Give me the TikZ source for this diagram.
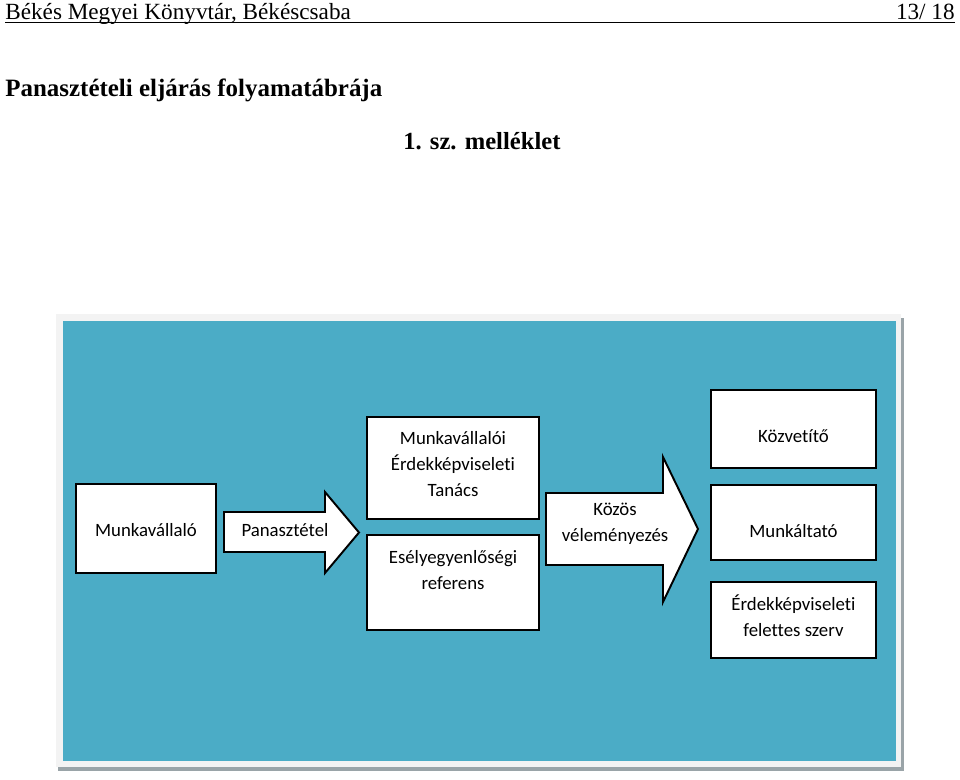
\documentclass[tikz,border=0pt]{standalone}
\usepackage{fontspec}
\setmainfont{Liberation Serif}
\newfontfamily\dobozfont[Ligatures=NoCommon]{Carlito}
\usetikzlibrary{positioning}
\definecolor{panelkek}{HTML}{4BACC6}
\definecolor{keret}{HTML}{F3F3F3}
\definecolor{arnyek}{HTML}{9AA4A8}

\tikzset{
  doboz/.style={draw=black, line width=1.1pt, fill=white, inner sep=0pt},
  szoveg/.style={font=\dobozfont\fontsize{10.7}{15}\selectfont, align=center, inner sep=0pt},
  nyil/.style={draw=black, line width=1.1pt, fill=white, line join=miter},
}

\begin{document}
\begin{tikzpicture}[x=0.02cm,y=-0.02cm]
\useasboundingbox (0,0) rectangle (960,779);

\node[anchor=base west, inner sep=0pt, font=\fontsize{13.2}{15}\selectfont] (fej) at (5,19.5) {Békés Megyei Könyvtár, Békéscsaba};
\node[anchor=base east, inner sep=0pt, font=\fontsize{13.2}{15}\selectfont] (oldal) at (955,19.5) {13/ 18};
\draw[line width=0.6pt] (fej.base west) ++(0,3) coordinate (vonal) -- (vonal -| oldal.east);
\node[anchor=base west, inner sep=0pt, font=\bfseries\fontsize{14.2}{16}\selectfont] (cim) at (5,96) {Panasztételi eljárás folyamatábrája};
\node[anchor=base west, inner sep=0pt, font=\bfseries\fontsize{14}{16}\selectfont] (mell) at (403,149) {1. sz. melléklet};

\fill[arnyek] (58,318) rectangle (904,771);
\fill[keret] (56,314) rectangle (901,767);
\fill[panelkek] (63,321) rectangle (896,761);

\node[doboz, minimum width=2.8cm, minimum height=1.78cm] (munkavallalo) at (146,528.5) {};
\node[szoveg] (munkavallalo-t) at (146,530) {Munkavállaló};

\draw[nyil] (224,512) -- (325,512) -- (325,492) -- (359,532.5) -- (325,573) -- (325,552) -- (224,552) -- cycle;
\node[szoveg] (panasz) at (285,530) {Panasztétel};

\node[doboz, minimum width=3.44cm, minimum height=2.04cm] (met) at (453,468) {};
\node[szoveg] (met-t) at (453,464) {Munkavállalói\\Érdekképviseleti\\Tanács};
\node[doboz, minimum width=3.44cm, minimum height=1.9cm] (esely) at (453,582.5) {};
\node[szoveg] (esely-t) at (453,570) {Esélyegyenlőségi\\referens};

\draw[nyil] (546,493) -- (663,493) -- (663,457) -- (698,529) -- (663,602) -- (663,565) -- (546,565) -- cycle;
\node[szoveg] (kozos) at (615,523.5) {Közös\\véleményezés};

\foreach \nev/\y/\h in {kozvetito/429/1.56, munkaltato/522.5/1.5, felettes/620/1.52}
  \node[doboz, minimum width=3.3cm, minimum height=\h cm] (\nev) at (793.5,\y) {};
\node[szoveg] (kozvetito-t) at (793.5,436) {Közvetítő};
\node[szoveg] (munkaltato-t) at (793.5,531) {Munkáltató};
\node[szoveg] (felettes-t) at (793.5,615.5) {Érdekképviseleti\\felettes szerv};
\end{tikzpicture}
\end{document}
